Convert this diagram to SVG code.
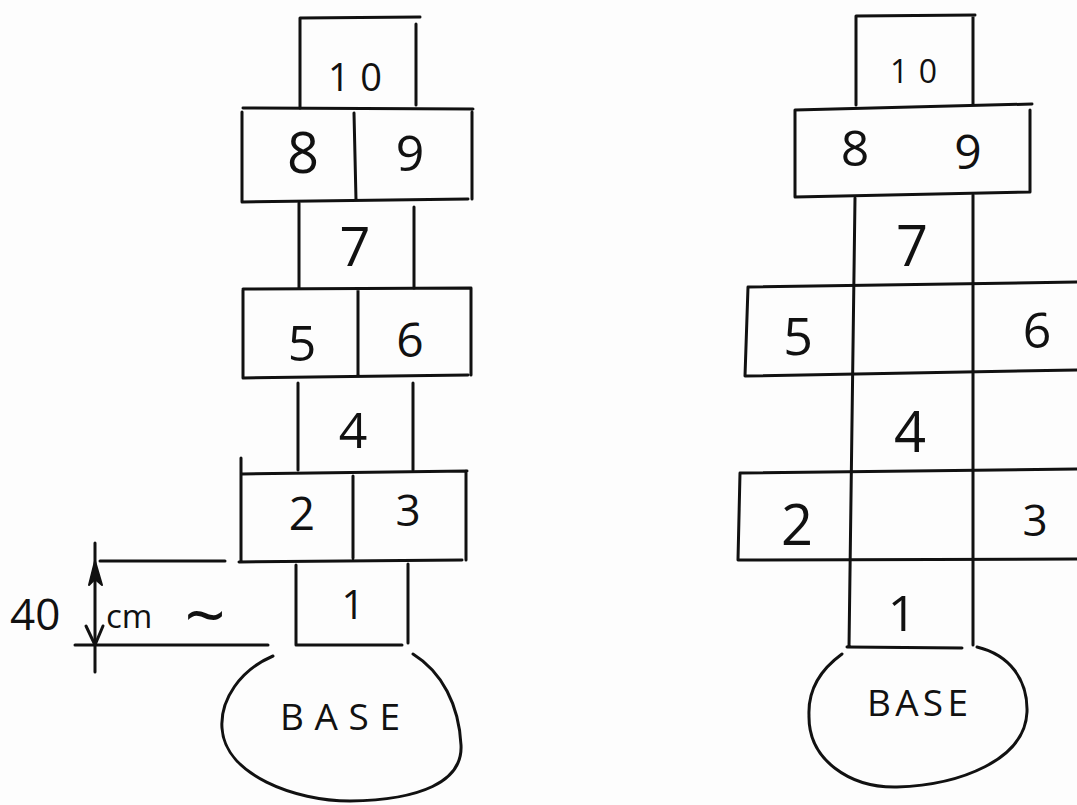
<svg xmlns="http://www.w3.org/2000/svg" width="1077" height="805" viewBox="0 0 1077 805">
  <style>
    .ln { fill: none; stroke: #111; stroke-width: 3; stroke-linecap: round; stroke-linejoin: round; }
    .num { font-family: "Open Sans", "Liberation Sans", sans-serif; font-weight: 400; fill: #111; text-anchor: middle; }
    .lbl { font-family: "Open Sans", "Liberation Sans", sans-serif; font-weight: 400; fill: #111; }
  </style>
  <rect width="1077" height="805" fill="#fdfdfd"/>

  <!-- Left court: paired squares -->
  <g id="left-court">
    <g id="l-sq10">
      <path class="ln" d="M300,108 L300,18 L420,17 M416,24 L416,105"/>
      <text class="lbl" x="328" y="91" font-size="38" textLength="54" lengthAdjust="spacing">10</text>
    </g>
    <g id="l-sq8-9">
      <path class="ln" d="M243,108 L473,109 M242,112 L242,202 L468,199 M472,112 L472,199 M354,113 L356,200"/>
      <text class="num" x="303" y="173" font-size="56">8</text>
      <text class="num" x="410" y="171" font-size="50">9</text>
    </g>
    <g id="l-sq7">
      <path class="ln" d="M299,203 L299,288 M414,207 L414,288"/>
      <text class="num" x="355" y="266" font-size="54">7</text>
    </g>
    <g id="l-sq5-6">
      <path class="ln" d="M243,289 L471,288 M243,290 L243,378 L468,375 M471,288 L471,375 M358,290 L358,375"/>
      <text class="num" x="302" y="361" font-size="50">5</text>
      <text class="num" x="410" y="357" font-size="48">6</text>
    </g>
    <g id="l-sq4">
      <path class="ln" d="M298,383 L298,470 M413,383 L413,470"/>
      <text class="num" x="353" y="448" font-size="50">4</text>
    </g>
    <g id="l-sq2-3">
      <path class="ln" d="M242,474 L467,471 M241,458 L241,561 M239,562 L462,560 M466,471 L466,560 M353,476 L353,558"/>
      <text class="num" x="302" y="530" font-size="46">2</text>
      <text class="num" x="408" y="526" font-size="44">3</text>
    </g>
    <g id="l-sq1">
      <path class="ln" d="M296,565 L296,645 L402,645 M408,564 L408,643"/>
      <text class="num" x="353" y="619" font-size="40">1</text>
    </g>
    <g id="l-base">
      <path class="ln" d="M273,656 C240,670 220,700 222,728 C225,775 295,801 350,801 C420,800 463,782 461,745 C459,705 442,672 413,654"/>
      <text class="lbl" x="280" y="730" font-size="37" textLength="120" lengthAdjust="spacing">BASE</text>
    </g>
  </g>

  <!-- Dimension marking the depth of one square -->
  <g id="connectors">
    <path class="ln" d="M95,543 L95,672 M100,561 L225,561 M75,645 L268,645"/>
    <path d="M95,561 L89,585 L95,579 L102,585 Z" fill="#111" stroke="#111" stroke-width="2" stroke-linejoin="round"/>
    <path class="ln" d="M86,626 L95,645 L103,626"/>
  </g>
  <g id="dimension-label">
    <text class="lbl" x="10" y="630" font-size="44">40</text>
    <text class="lbl" x="106" y="628" font-size="33">cm</text>
    <text class="lbl" x="205" y="641" font-size="72" text-anchor="middle">~</text>
  </g>

  <!-- Right court: single squares on either side of the central column -->
  <g id="right-court">
    <g id="r-sq10">
      <path class="ln" d="M856,105 L856,16 L975,15 M973,16 L973,104"/>
      <text class="lbl" x="890" y="83" font-size="32" textLength="47" lengthAdjust="spacing">10</text>
    </g>
    <g id="r-sq8-9">
      <path class="ln" d="M795,110 L1032,104 M795,110 L795,197 L1030,192 M1030,110 L1030,192"/>
      <text class="num" x="855" y="166" font-size="50">8</text>
      <text class="num" x="968" y="169" font-size="48">9</text>
    </g>
    <g id="r-column">
      <path class="ln" d="M855,198 L849,647 M973,195 L973,645 M847,647 L962,648"/>
    </g>
    <g id="r-sq7">
      <text class="num" x="912" y="266" font-size="56">7</text>
    </g>
    <g id="r-sq5-6">
      <path class="ln" d="M748,287 L1077,282 M748,287 L745,376 L1077,370"/>
      <text class="num" x="798" y="355" font-size="52">5</text>
      <text class="num" x="1037" y="348" font-size="50">6</text>
    </g>
    <g id="r-sq4">
      <text class="num" x="910" y="452" font-size="56">4</text>
    </g>
    <g id="r-sq2-3">
      <path class="ln" d="M740,473 L1077,469 M740,473 L738,560 L1077,559"/>
      <text class="num" x="797" y="545" font-size="56">2</text>
      <text class="num" x="1035" y="536" font-size="44">3</text>
    </g>
    <g id="r-sq1">
      <text class="num" x="902" y="631" font-size="50">1</text>
    </g>
    <g id="r-base">
      <path class="ln" d="M842,654 C820,670 808,690 809,715 C808,760 850,788 897,787 C960,785 1025,760 1027,712 C1028,680 1010,655 977,647"/>
      <text class="lbl" x="867" y="716" font-size="37" textLength="101" lengthAdjust="spacing">BASE</text>
    </g>
  </g>
</svg>
